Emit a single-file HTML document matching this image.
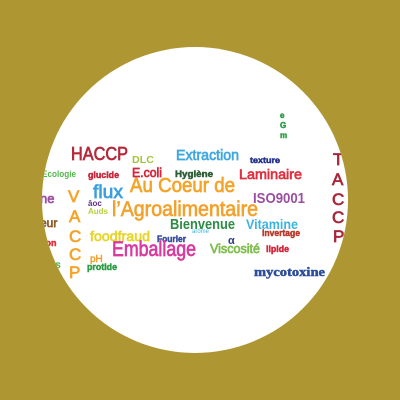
<!DOCTYPE html>
<html><head><meta charset="utf-8"><style>
html,body{margin:0;padding:0;background:#AE9632;}
svg{display:block}
text{font-family:"Liberation Sans",sans-serif;stroke-width:0.5;}
.b text, text.b{stroke-width:0.7}
</style></head><body>
<svg width="400" height="400" viewBox="0 0 400 400">
<rect width="400" height="400" fill="#AE9632"/>
<defs><clipPath id="c"><circle cx="195" cy="200" r="153"/></clipPath></defs>
<circle cx="195" cy="200" r="153" fill="#fff"/>
<g clip-path="url(#c)">
<text class="b" x="71" y="160" font-size="18" textLength="57" lengthAdjust="spacingAndGlyphs" fill="#B5293B" stroke="#B5293B">HACCP</text>
<text x="132" y="163" font-size="10" font-weight="bold" textLength="22" lengthAdjust="spacingAndGlyphs" fill="#A3C43A">DLC</text>
<text class="b" x="176" y="160" font-size="15" textLength="63" lengthAdjust="spacingAndGlyphs" fill="#3FA8DD" stroke="#3FA8DD">Extraction</text>
<text x="250" y="163" font-size="8" font-weight="bold" textLength="30" lengthAdjust="spacingAndGlyphs" fill="#26338A" stroke="#26338A">texture</text>
<text x="42" y="177" font-size="9" font-weight="bold" textLength="34" lengthAdjust="spacingAndGlyphs" fill="#53B64A">Ecologie</text>
<text x="88" y="178" font-size="9" font-weight="bold" textLength="31" lengthAdjust="spacingAndGlyphs" fill="#C7283A" stroke="#C7283A">glucide</text>
<text class="b" x="132" y="177" font-size="13" textLength="30" lengthAdjust="spacingAndGlyphs" fill="#D3263A" stroke="#D3263A">E.coli</text>
<text x="175" y="177" font-size="9" font-weight="bold" textLength="38" lengthAdjust="spacingAndGlyphs" fill="#2D5E38" stroke="#2D5E38">Hygiène</text>
<text class="b" x="239" y="179" font-size="14" textLength="63" lengthAdjust="spacingAndGlyphs" fill="#E03140" stroke="#E03140">Laminaire</text>
<text class="b" x="130" y="192" font-size="20" textLength="105" lengthAdjust="spacingAndGlyphs" fill="#F4A428" stroke="#F4A428">Au Coeur de</text>
<text class="b" x="93" y="198" font-size="18" textLength="30" lengthAdjust="spacingAndGlyphs" fill="#3A9FDD" stroke="#3A9FDD">flux</text>
<text class="b" x="40" y="203" font-size="13" fill="#9B4FA0" stroke="#9B4FA0">ne</text>
<text class="b" x="253" y="203" font-size="15" font-weight="bold" textLength="52" lengthAdjust="spacingAndGlyphs" fill="#9B4FA0">ISO9001</text>
<text class="b" x="112" y="216" font-size="21" textLength="146" lengthAdjust="spacingAndGlyphs" fill="#F2A22D" stroke="#F2A22D">l’Agroalimentaire</text>
<text x="88" y="206" font-size="8" font-weight="bold" fill="#5A2D8C">âoc</text>
<text x="88" y="214" font-size="8" font-weight="bold" fill="#B6CF3D">Auds</text>
<text class="b" x="40" y="227" font-size="12" fill="#8B5A2B" stroke="#8B5A2B">eur</text>
<text class="b" x="170" y="229" font-size="15" font-weight="bold" textLength="65" lengthAdjust="spacingAndGlyphs" fill="#2E8B45">Bienvenue</text>
<text class="b" x="246" y="229" font-size="14" font-weight="bold" textLength="52" lengthAdjust="spacingAndGlyphs" fill="#3BB4E0">Vitamine</text>
<text x="262" y="236" font-size="9" font-weight="bold" textLength="38" lengthAdjust="spacingAndGlyphs" fill="#B83A2A" stroke="#B83A2A">invertage</text>
<text x="192" y="233" font-size="6" fill="#3BB4E0">arôme</text>
<text class="b" x="90" y="241" font-size="14" textLength="60" lengthAdjust="spacingAndGlyphs" fill="#E6D52B" stroke="#E6D52B">foodfraud</text>
<text x="157" y="242" font-size="9" font-weight="bold" textLength="29" lengthAdjust="spacingAndGlyphs" fill="#3A4E9C" stroke="#3A4E9C">Fourier</text>
<text x="40" y="246" font-size="9" font-weight="bold" fill="#E02B3A" stroke="#E02B3A">tion</text>
<text class="b" x="112" y="256" font-size="21" textLength="84" lengthAdjust="spacingAndGlyphs" fill="#D83AA0" stroke="#D83AA0">Emballage</text>
<text x="228" y="244" font-size="11" font-weight="bold" fill="#2B3E8C">α</text>
<text class="b" x="210" y="253" font-size="13" textLength="50" lengthAdjust="spacingAndGlyphs" fill="#7DBE4A" stroke="#7DBE4A">Viscosité</text>
<text x="266" y="252" font-size="9" font-weight="bold" textLength="23" lengthAdjust="spacingAndGlyphs" fill="#D3263A" stroke="#D3263A">lipide</text>
<text x="90" y="262" font-size="10" fill="#F0A030" stroke="#F0A030">pH</text>
<text x="50" y="268" font-size="10" fill="#53B64A" stroke="#53B64A">os</text>
<text x="87" y="270" font-size="9" font-weight="bold" textLength="30" lengthAdjust="spacingAndGlyphs" fill="#2E9E46" stroke="#2E9E46">protide</text>
<text x="254" y="276" font-size="13" font-weight="bold" textLength="71" lengthAdjust="spacingAndGlyphs" fill="#2C4E9A" stroke="#2C4E9A" style="font-family:'Liberation Serif',serif">mycotoxine</text>
<g class="b" fill="#F4A428" stroke="#F4A428" font-size="17">
<text x="68" y="202">V</text><text x="69" y="222">A</text><text x="69" y="242">C</text><text x="69" y="260">C</text><text x="69" y="278">P</text>
</g>
<g class="b" fill="#A8283A" stroke="#A8283A" font-size="17">
<text x="333" y="165">T</text><text x="332" y="185">A</text><text x="332" y="205">C</text><text x="332" y="223">C</text><text x="333" y="242">P</text>
</g>
<g fill="#2E9E46" stroke="#2E9E46" font-size="8" font-weight="bold">
<text x="280" y="118">e</text><text x="280" y="128">G</text><text x="280" y="138">m</text>
</g>
</g>
</svg>
</body></html>
